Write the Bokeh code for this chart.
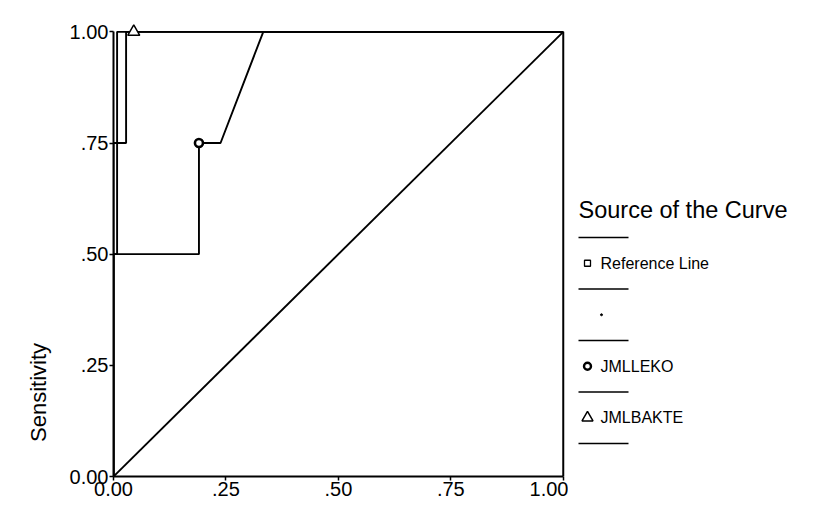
import math
from bokeh.plotting import figure
from bokeh.models import Range1d, FixedTicker
from bokeh.layouts import row
from bokeh.embed import file_html
from bokeh.resources import INLINE
from bokeh.core.properties import value

# ---- data ----
xticks = [0.0, 0.25, 0.5, 0.75, 1.0]
xtick_labels = ["0.00", ".25", ".50", ".75", "1.00"]
yticks = [0.0, 0.25, 0.5, 0.75, 1.0]
ytick_labels = ["0.00", ".25", ".50", ".75", "1.00"]
y_axis_title = "Sensitivity"
legend_title = "Source of the Curve"

series_names = ["Reference Line", "", "JMLLEKO", "JMLBAKTE"]

ref_x = [0.0, 1.0]
ref_y = [0.0, 1.0]
blank_x = [0.0, 0.0, 0.008, 0.008, 1.0]
blank_y = [0.0, 0.5, 0.5, 1.0, 1.0]
leko_x = [0.0, 0.0, 0.19, 0.19, 0.238, 0.333, 1.0]
leko_y = [0.0, 0.5, 0.5, 0.75, 0.75, 1.0, 1.0]
bakte_x = [0.0, 0.0, 0.028, 0.028, 1.0]
bakte_y = [0.0, 0.75, 0.75, 1.0, 1.0]
leko_mark_x = [0.19]
leko_mark_y = [0.75]
bakte_mark_x = [0.045]
bakte_mark_y = [1.0]

FONT = "Liberation Sans"
TOP = 18          # frame top (px) shared by all panels
H = 470           # side panel frame height


def side_panel(w):
    f = figure(frame_width=w, frame_height=H, x_range=Range1d(0, w), y_range=Range1d(TOP + H, TOP),
               output_backend="svg", toolbar_location=None,
               min_border_left=0, min_border_right=0, min_border_top=TOP, min_border_bottom=0)
    f.axis.visible = False
    f.xgrid.visible = False
    f.ygrid.visible = False
    f.outline_line_color = None
    return f


# ---- left panel with the y-axis title ----
LEFT_W = 60
pa = side_panel(LEFT_W)
pa.text(x=[38], y=[392], text=[y_axis_title], angle=math.pi / 2, text_font=value(FONT),
        text_font_size=value("22px"), text_align="center", text_baseline="middle",
        text_color="black")

# ---- main plot ----
p = figure(frame_width=452, frame_height=458,
           x_range=Range1d(0, 1.005), y_range=Range1d(0, 1.03),
           output_backend="svg", toolbar_location=None,
           min_border_left=113 - LEFT_W, min_border_right=3, min_border_top=TOP, min_border_bottom=20)
p.xgrid.visible = False
p.ygrid.visible = False
p.outline_line_color = None

for ax, ticks, labels in ((p.xaxis[0], xticks, xtick_labels), (p.yaxis[0], yticks, ytick_labels)):
    ax.ticker = FixedTicker(ticks=ticks)
    ax.major_label_overrides = {t: l for t, l in zip(ticks, labels)}
    ax.bounds = (ticks[0], ticks[-1])
    ax.axis_line_width = 2
    ax.axis_line_color = "black"
    ax.major_tick_line_color = "black"
    ax.major_tick_line_width = 1.5
    ax.major_tick_out = 4
    ax.major_tick_in = 0
    ax.minor_tick_line_color = None
    ax.major_label_text_font = FONT
    ax.major_label_text_font_size = "20px"
    ax.major_label_text_color = "black"
    ax.major_label_standoff = 1

lw = 1.9
p.line(ref_x, ref_y, line_color="black", line_width=lw)
p.line(blank_x, blank_y, line_color="black", line_width=lw)
p.line(leko_x, leko_y, line_color="black", line_width=lw)
p.line(bakte_x, bakte_y, line_color="black", line_width=lw)
# right frame edge
p.line([xticks[-1], xticks[-1]], [yticks[0], yticks[-1]], line_color="black", line_width=2)

p.scatter(leko_mark_x, leko_mark_y, marker="circle", size=8, fill_color="white",
          line_color="black", line_width=2.6)
p.scatter(bakte_mark_x, bakte_mark_y, marker="triangle", size=12, fill_color="white",
          line_color="black", line_width=1.5)

# ---- legend panel (pixel coordinates, y downward) ----
pl = side_panel(240)

title_y = 209
sep0 = 237
step = 51.5
sep_ys = [sep0 + i * step for i in range(len(series_names) + 1)]
entry_ys = [sep0 + (i + 0.5) * step for i in range(len(series_names))]

pl.text(x=[10], y=[title_y], text=[legend_title], text_font=value(FONT),
        text_font_size=value("23.5px"), text_baseline="middle", text_align="left", text_color="black")
pl.segment(x0=[10] * len(sep_ys), y0=sep_ys, x1=[60] * len(sep_ys), y1=sep_ys,
           line_color="black", line_width=1.6)
pl.text(x=[32] * len(series_names), y=entry_ys, text=series_names, text_font=value(FONT),
        text_font_size=value("16px"), text_baseline="middle", text_align="left", text_color="black")

marker_x = 19
pl.scatter([marker_x], [entry_ys[0]], marker="square", size=6, fill_color="white",
           line_color="black", line_width=1.3)
pl.scatter([marker_x + 14], [entry_ys[1]], marker="circle", size=2, fill_color="black",
           line_color="black")
pl.scatter([marker_x], [entry_ys[2]], marker="circle", size=7, fill_color="white",
           line_color="black", line_width=2.4)
pl.scatter([marker_x], [entry_ys[3]], marker="triangle", size=11, fill_color="white",
           line_color="black", line_width=1.5)

layout = row(pa, p, pl)
open("out.html", "w").write(file_html(layout, INLINE))
